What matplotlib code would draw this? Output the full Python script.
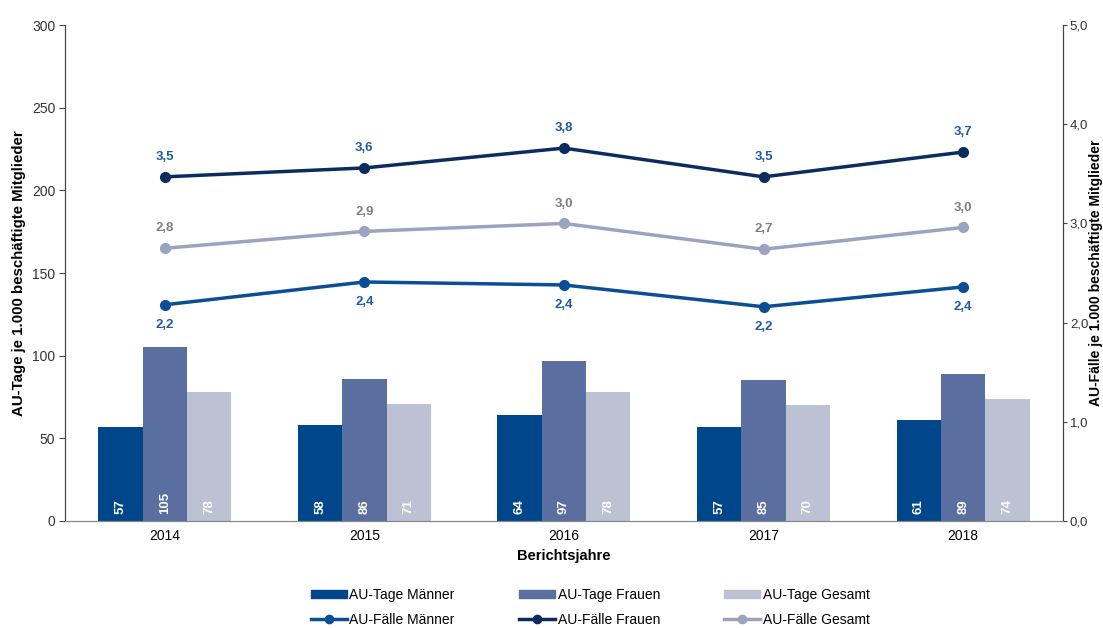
import matplotlib
matplotlib.use('agg')
import matplotlib.pyplot as plt
import numpy as np
from matplotlib.patches import Patch
from matplotlib.lines import Line2D

plt.rcParams['font.family'] = ['Liberation Sans', 'DejaVu Sans']

# data
years = ['2014', '2015', '2016', '2017', '2018']
tage_maenner = [57, 58, 64, 57, 61]
tage_frauen = [105, 86, 97, 85, 89]
tage_gesamt = [78, 71, 78, 70, 74]
faelle_maenner = [2.18, 2.41, 2.38, 2.16, 2.36]
faelle_frauen = [3.47, 3.56, 3.76, 3.47, 3.72]
faelle_gesamt = [2.75, 2.92, 3.00, 2.74, 2.96]

c_bar_m = '#00468a'
c_bar_f = '#5a6f9f'
c_bar_g = '#bcc2d3'
c_line_m = '#0b4e96'
c_line_f = '#0b2d5e'
c_line_g = '#9aa3bf'
c_lab_blue = '#1f5ba3'
c_lab_gray = '#7f7f7f'

fig = plt.figure(figsize=(11.03, 6.28), dpi=100)
ax = fig.add_axes([0.0589, 0.1704, 0.9048, 0.7896])
ax2 = ax.twinx()

x = np.arange(len(years))
w = 0.222
for off, vals, col in [(-w, tage_maenner, c_bar_m), (0, tage_frauen, c_bar_f), (w, tage_gesamt, c_bar_g)]:
    bars = ax.bar(x + off, vals, w, color=col, zorder=2)
    for b, v in zip(bars, vals):
        ax.text(b.get_x() + b.get_width() / 2, 4, str(v), rotation=90, ha='center', va='bottom',
                color='white', fontsize=9.5, fontweight='bold')

ax.set_xlim(-0.5, len(years) - 0.5)
ax.set_ylim(0, 300)
ax.set_yticks(range(0, 301, 50))
ax.set_xticks(x)
ax.set_xticklabels(years)
ax.tick_params(axis='x', length=0, labelsize=10, pad=6)
ax.tick_params(axis='y', labelsize=10, length=4, direction='out', pad=3)
ax.set_ylabel('AU-Tage je 1.000 beschäftigte Mitglieder', fontsize=10.8, fontweight='bold', labelpad=4)
ax.set_xlabel('Berichtsjahre', fontsize=10.5, fontweight='bold', labelpad=4)

for axx in (ax, ax2):
    axx.spines['top'].set_visible(False)
    axx.spines['left'].set_color('#444444')
    axx.spines['right'].set_color('#444444')
    axx.spines['bottom'].set_color('#888888')

ax2.plot(x, faelle_frauen, color=c_line_f, lw=2.5, marker='o', ms=7, zorder=3)
ax2.plot(x, faelle_gesamt, color=c_line_g, lw=2.5, marker='o', ms=7, zorder=3)
ax2.plot(x, faelle_maenner, color=c_line_m, lw=2.5, marker='o', ms=7, zorder=3)

def fmt(v):
    return f'{v:.1f}'.replace('.', ',')

for xi, v in zip(x, faelle_frauen):
    ax2.annotate(fmt(v), (xi, v), xytext=(0, 10), textcoords='offset points', ha='center', va='bottom',
                 color=c_lab_blue, fontsize=9.5, fontweight='bold')
for xi, v in zip(x, faelle_gesamt):
    ax2.annotate(fmt(v), (xi, v), xytext=(0, 10), textcoords='offset points', ha='center', va='bottom',
                 color=c_lab_gray, fontsize=9.5, fontweight='bold')
for xi, v in zip(x, faelle_maenner):
    ax2.annotate(fmt(v), (xi, v), xytext=(0, -10), textcoords='offset points', ha='center', va='top',
                 color=c_lab_blue, fontsize=9.5, fontweight='bold')

ax2.set_ylim(0, 5)
ax2.set_yticks(np.arange(0, 5.01, 1))
ax2.set_yticklabels([fmt(t) for t in np.arange(0, 5.01, 1)])
ax2.tick_params(axis='y', labelsize=9.5, length=3, direction='out', pad=2)
ax.tick_params(axis='y', colors='#444444', labelcolor='#333333')
ax2.tick_params(axis='y', colors='#444444', labelcolor='#333333')
# right axis title placed by hand so it stays inside the figure
fig.text(1096 / 1103, 0.1704 + 0.7896 / 2, 'AU-Fälle je 1.000 beschäftigte Mitglieder', rotation=90,
         ha='center', va='center', fontsize=10, fontweight='bold')

handles = [
    Patch(color=c_bar_m, label='AU-Tage Männer'),
    Line2D([], [], color=c_line_m, lw=2.5, marker='o', ms=6, label='AU-Fälle Männer'),
    Patch(color=c_bar_f, label='AU-Tage Frauen'),
    Line2D([], [], color=c_line_f, lw=2.5, marker='o', ms=6, label='AU-Fälle Frauen'),
    Patch(color=c_bar_g, label='AU-Tage Gesamt'),
    Line2D([], [], color=c_line_g, lw=2.5, marker='o', ms=6, label='AU-Fälle Gesamt'),
]
fig.legend(handles=handles, ncol=3, loc='lower center', bbox_to_anchor=(0.535, -0.018), frameon=False,
           fontsize=10, handlelength=2.6, handleheight=0.5, handletextpad=0.2, columnspacing=4.6,
           labelspacing=0.75)

fig.savefig('out.png', dpi=100)
